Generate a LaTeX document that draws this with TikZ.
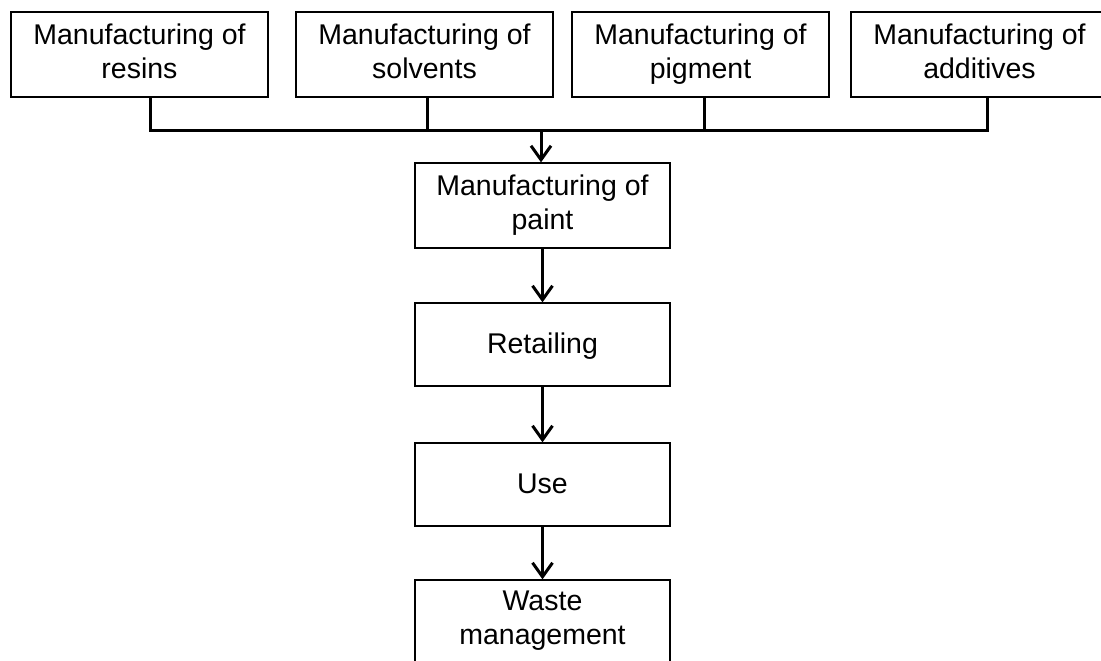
\documentclass[tikz,border=0pt]{standalone}
\usepackage{fontspec}
\setmainfont{Liberation Sans}
\usetikzlibrary{arrows.meta}
\newcommand{\linestrut}{\rule[-7pt]{0pt}{32pt}}
\begin{document}
\begin{tikzpicture}[x=1pt,y=-1pt,
    stagebox/.style={draw,line width=1.3pt,align=center,inner sep=0pt,minimum width=257pt,minimum height=85pt,font=\fontsize{28.5}{34}\selectfont,execute at begin node=\linestrut,execute at end node=\linestrut},
    chainbox/.style={stagebox,minimum width=255pt,minimum height=83pt},
    link/.style={line width=3pt},
    flow/.style={link,-{Straight Barb[length=14pt,width=20pt,line width=3pt]}}]
    \useasboundingbox (0,0) rectangle (1101,661);
    % Raw material stages
    \node[stagebox] (resins) at (139.5,54.5) {Manufacturing of\\resins};
    \node[stagebox] (solvents) at (424.5,54.5) {Manufacturing of\\solvents};
    \node[stagebox] (pigment) at (700.5,54.5) {Manufacturing of\\pigment};
    \node[stagebox] (additives) at (979.5,54.5) {Manufacturing of\\additives};
    % Paint life cycle
    \node[stagebox,minimum width=255pt] (paint) at (542.5,205.5) {Manufacturing of\\paint};
    \node[chainbox] (retail) at (542.5,344.5) {Retailing};
    \node[chainbox] (use) at (542.5,484.5) {Use};
    \node[chainbox] (waste) at (542.5,621.5) {Waste\\management};
    % Collecting line
    \coordinate (bus) at (541,130);
    \draw[link] ([xshift=10.5pt]resins.south) -- ++(0,33) -| ([xshift=7.5pt]additives.south);
    \draw[link] ([xshift=2.5pt]solvents.south) -- ([xshift=2.5pt]solvents.south |- bus);
    \draw[link] ([xshift=3.5pt]pigment.south) -- ([xshift=3.5pt]pigment.south |- bus);
    \draw[flow] (bus) -- (bus |- paint.north);
    \draw[flow] (paint) -- (retail);
    \draw[flow] (retail) -- (use);
    \draw[flow] (use) -- (waste);
\end{tikzpicture}
\end{document}
